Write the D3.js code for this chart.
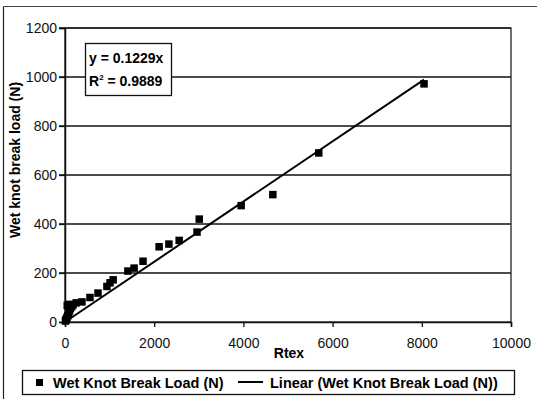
<!DOCTYPE html>
<html>
<head>
<meta charset="utf-8">
<script src="https://cdn.jsdelivr.net/npm/d3@7/dist/d3.min.js"></script>
<style>
  html, body { margin: 0; padding: 0; background: #fff; }
  svg { display: block; font-family: "Liberation Sans", Arial, sans-serif; }
</style>
</head>
<body>
<svg id="chart" width="537" height="399"></svg>
<script>
// Wet knot break load vs. Rtex
const rtex = [10, 20, 30, 45, 60, 80, 100, 120, 150, 50, 90, 180, 250, 380, 560, 740, 940, 1010, 1080,
              1410, 1550, 1750, 2110, 2330, 2560, 2960, 3010, 3950, 4660, 5690, 8050];
const load = [4, 8, 12, 18, 25, 35, 45, 55, 62, 68, 72, 70, 78, 82, 100, 118, 145, 160, 172,
              208, 220, 248, 307, 318, 333, 367, 420, 475, 520, 690, 972];
const slope = 0.1229;
const rSquared = "0.9889";
const xTicks = [0, 2000, 4000, 6000, 8000, 10000];
const yTicks = [0, 200, 400, 600, 800, 1000, 1200];

const svg = d3.select("#chart");
const plot = { left: 65, right: 511, top: 28, bottom: 322 };

const x = d3.scaleLinear().domain([0, 10000]).range([plot.left, plot.right]);
const y = d3.scaleLinear().domain([0, 1200]).range([plot.bottom, plot.top]);

// outer chart frame
svg.append("line").attr("x1", 3.5).attr("x2", 537).attr("y1", 6.5).attr("y2", 6.5)
  .attr("stroke", "#444").attr("stroke-width", 1.2);
svg.append("line").attr("x1", 3.5).attr("x2", 3.5).attr("y1", 6.5).attr("y2", 399)
  .attr("stroke", "#222").attr("stroke-width", 1.2);

// gridlines
svg.append("g").selectAll("line").data(yTicks.filter(d => d > 0)).join("line")
  .attr("x1", plot.left - 6).attr("x2", plot.right)
  .attr("y1", d => y(d)).attr("y2", d => y(d))
  .attr("stroke", "#111").attr("stroke-width", 1.3);

// plot frame
svg.append("rect")
  .attr("x", plot.left).attr("y", plot.top)
  .attr("width", plot.right - plot.left).attr("height", plot.bottom - plot.top)
  .attr("fill", "none").attr("stroke", "#222").attr("stroke-width", 1.3);

// axes
const fmt = d3.format("d");
const yAxis = svg.append("g").attr("transform", `translate(${plot.left},0)`)
  .call(d3.axisLeft(y).tickValues(yTicks).tickFormat(fmt).tickSize(6).tickPadding(2));
const xAxis = svg.append("g").attr("transform", `translate(0,${plot.bottom})`)
  .call(d3.axisBottom(x).tickValues(xTicks).tickFormat(fmt).tickSize(5).tickPadding(11));
[yAxis, xAxis].forEach(g => {
  g.select(".domain").attr("stroke", "#111").attr("stroke-width", 1.5);
  g.selectAll(".tick line").attr("stroke", "#111").attr("stroke-width", 1.3);
  g.selectAll(".tick text").attr("fill", "#111")
    .style("font-size", "14px").style("font-family", "Liberation Sans, Arial, sans-serif");
});

// trendline
const xMax = d3.max(rtex);
svg.append("line")
  .attr("x1", x(0)).attr("y1", y(0))
  .attr("x2", x(xMax)).attr("y2", y(slope * xMax))
  .attr("stroke", "#000").attr("stroke-width", 2);

// data markers
const s = 7.5;
svg.append("g").selectAll("rect").data(rtex.map((v, i) => [v, load[i]])).join("rect")
  .attr("x", d => x(d[0]) - s / 2).attr("y", d => y(d[1]) - s / 2)
  .attr("width", s).attr("height", s).attr("fill", "#000");

// equation box
svg.append("rect").attr("x", 85.5).attr("y", 43.5).attr("width", 86).attr("height", 52)
  .attr("fill", "#fff").attr("stroke", "#111").attr("stroke-width", 1.3);
svg.append("text").attr("x", 89).attr("y", 63)
  .style("font-size", "14px").style("font-weight", "bold")
  .text(`y = ${slope}x`);
const r2 = svg.append("text").attr("x", 89).attr("y", 86)
  .style("font-size", "14px").style("font-weight", "bold");
r2.append("tspan").text("R");
r2.append("tspan").attr("dy", -6).style("font-size", "8px").text("2");
r2.append("tspan").attr("dy", 6).text(` = ${rSquared}`);

// axis titles
svg.append("text").attr("transform", "translate(20,160) rotate(-90)")
  .attr("text-anchor", "middle").style("font-size", "14px").style("font-weight", "bold")
  .text("Wet knot break load (N)");
svg.append("text").attr("x", 289).attr("y", 358).attr("text-anchor", "middle")
  .style("font-size", "14px").style("font-weight", "bold").text("Rtex");

// legend
const lg = svg.append("g");
lg.append("rect").attr("x", 22.5).attr("y", 370.5).attr("width", 492).attr("height", 24)
  .attr("fill", "#fff").attr("stroke", "#111").attr("stroke-width", 1.3);
lg.append("rect").attr("x", 36).attr("y", 379).attr("width", 7).attr("height", 7).attr("fill", "#000");
lg.append("text").attr("x", 53).attr("y", 388)
  .style("font-size", "14.5px").style("font-weight", "bold").text("Wet Knot Break Load (N)");
lg.append("line").attr("x1", 238).attr("x2", 263).attr("y1", 382).attr("y2", 382)
  .attr("stroke", "#000").attr("stroke-width", 2);
lg.append("text").attr("x", 270).attr("y", 388)
  .style("font-size", "14.5px").style("font-weight", "bold").text("Linear (Wet Knot Break Load (N))");
</script>
</body>
</html>
